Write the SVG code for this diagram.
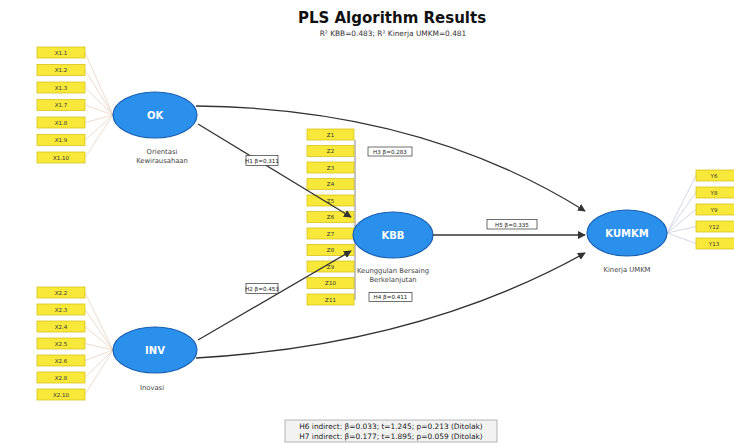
<svg xmlns="http://www.w3.org/2000/svg" width="734" height="445" viewBox="0 0 734 445">
<defs>
<marker id="arr" viewBox="0 0 10 10" refX="9" refY="5" markerWidth="6" markerHeight="6" orient="auto"><path d="M0,0 L10,5 L0,10 z" fill="#333"/></marker>
</defs>
<style>
.t{font-family:"DejaVu Sans",sans-serif;}
.ind rect{fill:#f7e83a;stroke:#d9c41a;stroke-width:0.8;}
.ind text{font-family:"DejaVu Sans",sans-serif;font-size:5.5px;fill:#333;text-anchor:middle;}
.lv ellipse{fill:#2b90ec;stroke:#1a5fb0;stroke-width:1.2;}
.lv text.n{font-family:"DejaVu Sans",sans-serif;font-size:10px;font-weight:bold;fill:#fff;text-anchor:middle;}
.cap{font-family:"DejaVu Sans",sans-serif;font-size:6.8px;fill:#444;text-anchor:middle;}
.il{stroke:#e3c2a8;stroke-width:0.6;fill:none;}
.il2{stroke:#b8b8d8;stroke-width:0.6;fill:none;}
.il3{stroke:#555;stroke-width:0.7;fill:none;}
.c{stroke:#333;stroke-width:1.3;fill:none;marker-end:url(#arr);}
.lb rect{fill:#fff;stroke:#333;stroke-width:0.7;}
.lb text{font-family:"DejaVu Sans",sans-serif;font-size:5.6px;fill:#222;text-anchor:middle;}
</style>
<rect width="734" height="445" fill="#fff"/>
<text class="t" x="392" y="23" font-size="15" font-weight="bold" text-anchor="middle" fill="#111">PLS Algorithm Results</text>
<text class="t" x="393" y="36" font-size="7.4" text-anchor="middle" fill="#333">R² KBB=0.483; R² Kinerja UMKM=0.481</text>

<g id="indicator-lines">
<path class="il" d="M85,52.5 L113,115 M85,70 L113,115 M85,87.5 L113,115 M85,105 L113,115 M85,122.5 L113,115 M85,140 L113,115 M85,157.5 L113,115"/>
<path class="il" d="M85,292.5 L113,350 M85,309.5 L113,350 M85,326.5 L113,350 M85,343.5 L113,350 M85,360.5 L113,350 M85,377.5 L113,350 M85,394.5 L113,350"/>
<path class="il3" d="M355,140 L355,300"/>
<path class="il" d="M354,217 L356,235 M354,250 L356,235 M354,233.5 L356,235"/>
<path class="il2" d="M667,233 L696,175.5 M667,233 L696,192.5 M667,233 L696,209.5 M667,233 L696,226.5 M667,233 L696,243.5"/>
</g>

<g id="OK" class="lv">
<g class="ind">
<rect x="37" y="47" width="48" height="11"/><text x="61" y="54.5">X1.1</text>
<rect x="37" y="64.5" width="48" height="11"/><text x="61" y="72">X1.2</text>
<rect x="37" y="82" width="48" height="11"/><text x="61" y="89.5">X1.3</text>
<rect x="37" y="99.5" width="48" height="11"/><text x="61" y="107">X1.7</text>
<rect x="37" y="117" width="48" height="11"/><text x="61" y="124.5">X1.8</text>
<rect x="37" y="134.5" width="48" height="11"/><text x="61" y="142">X1.9</text>
<rect x="37" y="152" width="48" height="11"/><text x="61" y="159.5">X1.10</text>
</g>
<ellipse cx="155" cy="115" rx="42" ry="23"/>
<text class="n" x="155" y="119">OK</text>
<text class="cap" x="162" y="154">Orientasi</text>
<text class="cap" x="162" y="163">Kewirausahaan</text>
</g>

<g id="INV" class="lv">
<g class="ind">
<rect x="37" y="287" width="48" height="11"/><text x="61" y="294.5">X2.2</text>
<rect x="37" y="304" width="48" height="11"/><text x="61" y="311.5">X2.3</text>
<rect x="37" y="321" width="48" height="11"/><text x="61" y="328.5">X2.4</text>
<rect x="37" y="338" width="48" height="11"/><text x="61" y="345.5">X2.5</text>
<rect x="37" y="355" width="48" height="11"/><text x="61" y="362.5">X2.6</text>
<rect x="37" y="372" width="48" height="11"/><text x="61" y="379.5">X2.8</text>
<rect x="37" y="389" width="48" height="11"/><text x="61" y="396.5">X2.10</text>
</g>
<ellipse cx="155" cy="350" rx="42" ry="23"/>
<text class="n" x="155" y="354">INV</text>
<text class="cap" x="152" y="390">Inovasi</text>
</g>

<g id="KBB" class="lv">
<g class="ind">
<rect x="307" y="129" width="47" height="11"/><text x="330.5" y="136.5">Z1</text>
<rect x="307" y="145.5" width="47" height="11"/><text x="330.5" y="153">Z2</text>
<rect x="307" y="162" width="47" height="11"/><text x="330.5" y="169.5">Z3</text>
<rect x="307" y="178.5" width="47" height="11"/><text x="330.5" y="186">Z4</text>
<rect x="307" y="195" width="47" height="11"/><text x="330.5" y="202.5">Z5</text>
<rect x="307" y="211.5" width="47" height="11"/><text x="330.5" y="219">Z6</text>
<rect x="307" y="228" width="47" height="11"/><text x="330.5" y="235.5">Z7</text>
<rect x="307" y="244.5" width="47" height="11"/><text x="330.5" y="252">Z8</text>
<rect x="307" y="261" width="47" height="11"/><text x="330.5" y="268.5">Z9</text>
<rect x="307" y="277.5" width="47" height="11"/><text x="330.5" y="285">Z10</text>
<rect x="307" y="294" width="47" height="11"/><text x="330.5" y="301.5">Z11</text>
</g>
<ellipse cx="393" cy="235" rx="40" ry="23"/>
<text class="n" x="393" y="239">KBB</text>
<text class="cap" x="393" y="273">Keunggulan Bersaing</text>
<text class="cap" x="393" y="282">Berkelanjutan</text>
</g>

<g id="KUMKM" class="lv">
<g class="ind">
<rect x="696" y="170" width="40" height="11"/><text x="714" y="177.5">Y6</text>
<rect x="696" y="187" width="40" height="11"/><text x="714" y="194.5">Y8</text>
<rect x="696" y="204" width="40" height="11"/><text x="714" y="211.5">Y9</text>
<rect x="696" y="221" width="40" height="11"/><text x="714" y="228.5">Y12</text>
<rect x="696" y="238" width="40" height="11"/><text x="714" y="245.5">Y13</text>
</g>
<ellipse cx="627" cy="233" rx="40" ry="23"/>
<text class="n" x="627" y="237">KUMKM</text>
<text class="cap" x="627" y="272">Kinerja UMKM</text>
</g>

<g id="connectors">
<path class="c" d="M198,124 L351,217"/>
<path class="c" d="M198,340 L351,251"/>
<path class="c" d="M196,106 Q420,108 585,211"/>
<path class="c" d="M196,358 Q420,345 585,253"/>
<path class="c" d="M433,235 L585,235"/>
</g>

<g id="labels" class="lb">
<rect x="246" y="155.5" width="32" height="10"/><text x="262" y="162.5">H1 β=0.311</text>
<rect x="246" y="283.5" width="32" height="10"/><text x="262" y="290.5">H2 β=0.453</text>
<rect x="368" y="147" width="44" height="9"/><text x="390" y="153.5">H3 β=0.283</text>
<rect x="487" y="219.5" width="50" height="9.5"/><text x="512" y="226.5">H5 β=0.335</text>
<rect x="369" y="292.5" width="43" height="9"/><text x="390.5" y="299">H4 β=0.411</text>
</g>

<g id="note">
<rect x="285" y="420" width="212" height="22" fill="#f2f2f2" stroke="#999" stroke-width="0.7"/>
<text class="t" x="391" y="429" font-size="7.4" text-anchor="middle" fill="#222">H6 indirect: β=0.033; t=1.245; p=0.213 (Ditolak)</text>
<text class="t" x="391" y="438.5" font-size="7.4" text-anchor="middle" fill="#222">H7 indirect: β=0.177; t=1.895; p=0.059 (Ditolak)</text>
</g>
</svg>
